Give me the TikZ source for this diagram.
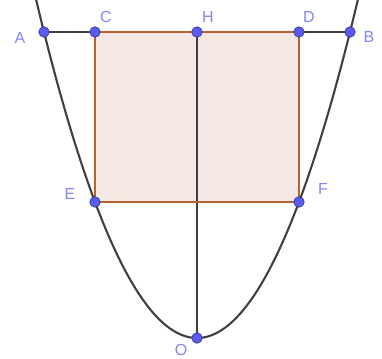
\documentclass[tikz,border=0pt]{standalone}
\usepackage{fontspec}
\setsansfont{Liberation Sans}
\usetikzlibrary{positioning, calc}
\definecolor{ptblue}{HTML}{5A5AF5}
\definecolor{lblblue}{HTML}{8484F8}
\definecolor{rectbrown}{HTML}{B8602E}
\definecolor{rectfill}{HTML}{F3E8E4}
\definecolor{curvegray}{HTML}{404040}
\tikzset{
  every node/.style={font=\sffamily},
  pt/.style={circle, fill=ptblue, draw=ptblue!50!black, line width=0.6pt, inner sep=0pt, minimum size=10.5pt},
  lbl/.style={text=lblblue, font=\sffamily\fontsize{16}{19}\selectfont, inner sep=0pt},
  curve/.style={curvegray, line width=2.1pt},
  seg/.style={curvegray, line width=2pt},
  rectedge/.style={rectbrown, line width=2.1pt}
}
\begin{document}
\begin{tikzpicture}[x=1pt, y=1pt]
    \useasboundingbox (-197, -20) rectangle (185, 338);
    \clip (-197, -20) rectangle (185, 338);
    % points of the figure
    \coordinate (O) at (0, 0);
    \coordinate (H) at (0, 306);
    \coordinate (A) at (-153, 306);
    \coordinate (B) at (153, 306);
    \coordinate (C) at (-102, 306);
    \coordinate (D) at (102, 306);
    \coordinate (E) at (-102, 136);
    \coordinate (F) at (102, 136);
    % rectangle
    \fill[rectfill] (C) -- (D) -- (F) -- (E) -- cycle;
    \draw[seg] (A) -- (B);
    \draw[seg] (O) -- (H);
    \draw[curve] plot[domain=-162:162, samples=120, smooth] (\x, {306*(\x/153)^2});
    \draw[rectedge] (C) -- (D) -- (F) -- (E) -- cycle;
    % dots
    \foreach \p in {A, B, C, D, E, F, H, O}
      \node[pt] (n\p) at (\p) {};
    % labels
    \node[lbl] (lA) at ([shift={(-24, -6)}]A) {A};
    \node[lbl] (lB) at ([shift={(19, -5)}]B) {B};
    \node[lbl] (lC) at ([shift={(11, 15)}]C) {C};
    \node[lbl] (lD) at ([shift={(10, 15)}]D) {D};
    \node[lbl] (lH) at ([shift={(11, 15)}]H) {H};
    \node[lbl] (lE) at ([shift={(-25, 8)}]E) {E};
    \node[lbl] (lF) at ([shift={(24, 13)}]F) {F};
    \node[lbl] (lO) at ([shift={(-16, -12)}]O) {O};
\end{tikzpicture}
\end{document}
